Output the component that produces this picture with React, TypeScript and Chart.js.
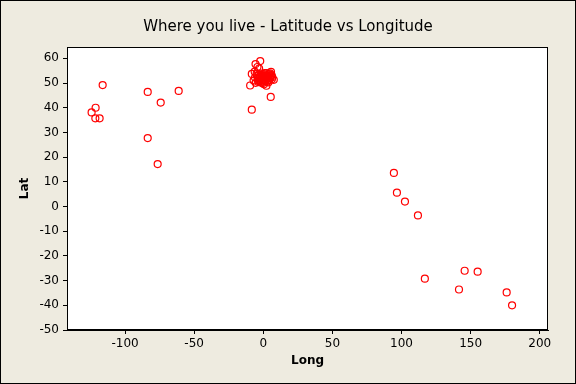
import React, { useEffect, useRef } from "react";
import { Chart, registerables } from "chart.js";

Chart.register(...registerables);

const longitude: number[] = [
  -116.2, -121.3, -124.2, -121.5, -118.4, -83.6, -74.2, -61.2, -83.6, -76.4,
  94.5, 96.7, 102.5, 111.9, 116.9, 145.7, 155.1, 141.6, 176.1, 180,
  5.4, -8.3,
  -2.2, -5.6, -4.2, -3.0, -8.3, -6.2, -1.5, -3.0, -2.2, -1.0, 0.1, -0.5, 1.3, 2.3,
  3.0, 4.5, 5.0, 6.2, 4.4, 2.3, -1.6, -3.5, -5.5, -6.0, -9.5, 7.6, 0.5, -1.2,
  3.0, 1.5, -3.1, 5.6, -7.0, -4.5, 2.0, 6.0,
  -4.0, -2.5, -0.8, 0.8, 2.5, 4.0, 5.5, -3.8, -1.8, 0.2, 1.8, 3.5, 4.8, -2.8,
  -0.2, 1.2, 3.8, 6.5, -4.8, 2.8,
];
const latitude: number[] = [
  49.2, 40.0, 38.1, 35.7, 35.7, 46.4, 42.1, 46.8, 27.7, 17.2,
  13.6, 5.6, 2.0, -3.6, -29.2, -26.0, -26.4, -33.6, -34.8, -40.0,
  44.4, 39.2,
  58.9, 57.7, 56.5, 55.9, 53.7, 54.6, 53.8, 53.3, 52.5, 52.9, 51.5, 51.3, 52.6, 53.0,
  52.4, 52.3, 52.0, 51.5, 51.2, 48.9, 50.8, 50.4, 50.1, 52.2, 49.0, 51.3, 49.5, 50.1,
  50.6, 50.8, 51.0, 54.5, 51.0, 53.0, 54.0, 53.2,
  52.0, 51.8, 52.3, 53.5, 52.1, 53.6, 52.8, 50.9, 50.3, 52.7, 51.9, 51.0, 53.9, 52.2,
  50.0, 54.0, 50.3, 52.4, 53.8, 52.9,
];
const xTicks: number[] = [-100, -50, 0, 50, 100, 150, 200];
const yTicks: number[] = [-50, -40, -30, -20, -10, 0, 10, 20, 30, 40, 50, 60];

const FONT = "'DejaVu Sans', Tahoma, sans-serif";
const BG = "#EEEBE0";

export default function App() {
  const ref = useRef<HTMLCanvasElement | null>(null);
  useEffect(() => {
    document.body.style.margin = "0";
    const canvas = ref.current;
    if (!canvas) return;
    const points = longitude.map((x, i) => ({ x, y: latitude[i] }));
    const framePlugin = {
      id: "frame",
      beforeDraw(chart: any) {
        const { ctx, width, height, chartArea } = chart;
        ctx.save();
        ctx.fillStyle = BG;
        ctx.fillRect(0, 0, width, height);
        ctx.strokeStyle = "#000";
        ctx.lineWidth = 1;
        ctx.strokeRect(0.5, 0.5, width - 1, height - 1);
        ctx.fillStyle = "#fff";
        ctx.fillRect(chartArea.left, chartArea.top, chartArea.right - chartArea.left, chartArea.bottom - chartArea.top);
        ctx.restore();
      },
      beforeDatasetsDraw(chart: any) {
        const { ctx, chartArea } = chart;
        ctx.save();
        ctx.strokeStyle = "#000";
        ctx.lineWidth = 1;
        ctx.strokeRect(
          Math.round(chartArea.left) + 0.5,
          Math.round(chartArea.top) + 0.5,
          Math.round(chartArea.right - chartArea.left) - 1,
          Math.round(chartArea.bottom - chartArea.top) - 1
        );
        ctx.restore();
      },
    };
    const chart = new Chart(canvas, {
      type: "scatter",
      data: {
        datasets: [
          {
            label: "Lat vs Long",
            data: points,
            pointStyle: "circle",
            pointRadius: 3.5,
            pointHoverRadius: 3.5,
            borderColor: "#FF0000",
            backgroundColor: "rgba(0,0,0,0)",
            borderWidth: 1.2,
          },
        ],
      },
      options: {
        animation: false,
        responsive: false,
        events: [],
        layout: { padding: 0 },
        plugins: {
          legend: { display: false },
          tooltip: { enabled: false },
          title: {
            display: true,
            text: "Where you live - Latitude vs Longitude",
            color: "#000",
            font: { family: FONT, size: 15, weight: "normal" },
            padding: { top: 18, bottom: 11 },
          },
        },
        scales: {
          x: {
            type: "linear",
            min: -142,
            max: 206,
            afterBuildTicks: (scale: any) => {
              scale.ticks = xTicks.map((v) => ({ value: v }));
            },
            afterFit: (scale: any) => {
              scale.height = 54;
            },
            grid: { drawOnChartArea: false, tickLength: 4, color: "#000" },
            border: { display: true, color: "#000" },
            ticks: { color: "#000", padding: 3, font: { family: FONT, size: 12 }, maxRotation: 0 },
            title: {
              display: true,
              text: "Long",
              color: "#000",
              font: { family: FONT, size: 12, weight: "bold" },
              padding: { top: 0, bottom: 16 },
            },
          },
          y: {
            type: "linear",
            min: -50,
            max: 64.6,
            afterBuildTicks: (scale: any) => {
              scale.ticks = yTicks.map((v) => ({ value: v }));
            },
            afterFit: (scale: any) => {
              scale.width = 67;
            },
            grid: { drawOnChartArea: false, tickLength: 4, color: "#000" },
            border: { display: true, color: "#000" },
            ticks: { color: "#000", padding: 4, font: { family: FONT, size: 12 } },
            title: {
              display: true,
              text: "Lat",
              color: "#000",
              font: { family: FONT, size: 12, weight: "bold" },
              padding: { top: 18, bottom: 0 },
            },
          },
          spacer: {
            type: "linear",
            position: "right",
            display: true,
            grid: { display: false, drawTicks: false },
            border: { display: false },
            ticks: { display: false },
            afterFit: (scale: any) => {
              scale.width = 28;
            },
          },
        },
      },
      plugins: [framePlugin],
    });
    return () => chart.destroy();
  }, []);
  return <canvas ref={ref} width={576} height={384} style={{ display: "block" }} />;
}
